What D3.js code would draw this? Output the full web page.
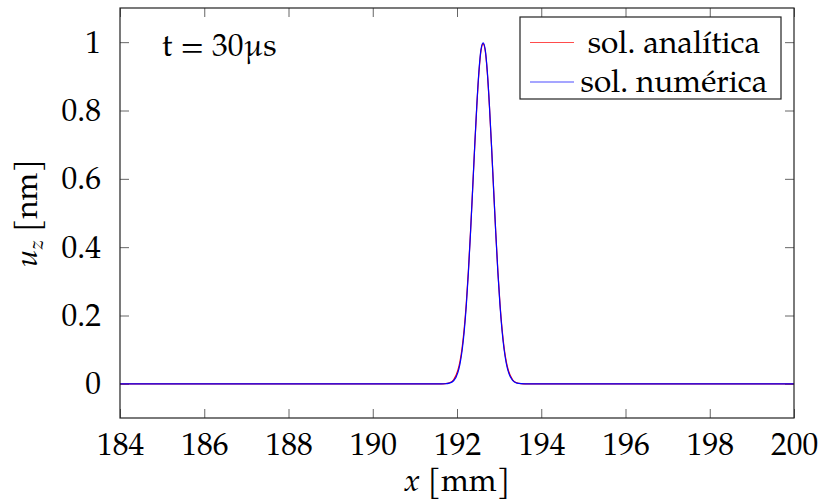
<!DOCTYPE html>
<html>
<head>
<meta charset="utf-8">
<script src="https://cdn.jsdelivr.net/npm/d3@7"></script>
<style>
  body { margin: 0; background: #fff; }
</style>
</head>
<body>
<div id="chart"></div>
<script>
// x positions (mm) of the sampled points
const xValues = [184, 190, 191.42, 191.62, 191.72, 191.82, 191.92, 192.02, 192.07, 192.12, 192.17, 192.22,
    192.27, 192.32, 192.37, 192.42, 192.47, 192.52, 192.57, 192.62, 192.67, 192.72, 192.77,
    192.82, 192.87, 192.92, 192.97, 193.02, 193.07, 193.12, 193.17, 193.22, 193.32, 193.42,
    193.52, 193.62, 195, 200];

// analytical solution u_z (nm)
const analytic = [0, 0, 0, 0.0001, 0.0007, 0.003, 0.012, 0.039, 0.065, 0.104, 0.160, 0.235,
    0.330, 0.443, 0.567, 0.694, 0.812, 0.910, 0.975, 0.995, 0.975, 0.910, 0.812,
    0.694, 0.567, 0.443, 0.330, 0.235, 0.160, 0.104, 0.065, 0.039, 0.012, 0.003,
    0.0007, 0.0001, 0, 0];

// numerical solution u_z (nm)
const numeric = [0, 0, 0, 0, 0.0003, 0.002, 0.009, 0.033, 0.058, 0.096, 0.152, 0.228,
    0.325, 0.440, 0.566, 0.695, 0.815, 0.914, 0.979, 0.998, 0.978, 0.913, 0.814,
    0.695, 0.567, 0.442, 0.327, 0.231, 0.155, 0.099, 0.060, 0.035, 0.010, 0.002,
    0.0004, 0, 0, 0];

const xTicks = [184, 186, 188, 190, 192, 194, 196, 198, 200];
const yTicks = [0, 0.2, 0.4, 0.6, 0.8, 1];

const legendItems = [
    { label: "sol. analítica", color: "#ff0000" },
    { label: "sol. numérica", color: "#0000ff" }
];

const FONT = '"TeX Gyre Pagella", "Liberation Serif", serif';
const FS = "31.5px";
const W = 824, H = 504;
const margin = { left: 120, right: 794, top: 8, bottom: 418 };

const svg = d3.select("#chart").append("svg")
    .attr("width", W)
    .attr("height", H);

const x = d3.scaleLinear().domain([184, 200]).range([margin.left, margin.right]);
const y = d3.scaleLinear().domain([-0.1, 1.1]).range([margin.bottom, margin.top]);

const tickLen = 9;

// axes (ticks inside, on all four sides)
svg.append("g")
    .attr("transform", `translate(0,${margin.bottom})`)
    .call(d3.axisBottom(x).tickValues(xTicks).tickSizeInner(-tickLen).tickSizeOuter(0).tickPadding(15).tickFormat(d3.format("d")))
    .call(g => g.select(".domain").remove())
    .call(g => g.selectAll("line").attr("stroke", "#666"))
    .call(g => g.selectAll("text").style("font-size", FS).style("font-family", FONT).attr("fill", "#000"));

svg.append("g")
    .attr("transform", `translate(0,${margin.top})`)
    .call(d3.axisTop(x).tickValues(xTicks).tickSizeInner(-tickLen).tickSizeOuter(0).tickFormat(""))
    .call(g => g.select(".domain").remove())
    .call(g => g.selectAll("line").attr("stroke", "#666"));

svg.append("g")
    .attr("transform", `translate(${margin.left},0)`)
    .call(d3.axisLeft(y).tickValues(yTicks).tickSizeInner(-tickLen).tickSizeOuter(0).tickPadding(19).tickFormat(d => d === 0 || d === 1 ? d3.format("d")(d) : d3.format(".1f")(d)))
    .call(g => g.select(".domain").remove())
    .call(g => g.selectAll("line").attr("stroke", "#666"))
    .call(g => g.selectAll("text").style("font-size", FS).style("font-family", FONT).attr("fill", "#000"));

svg.append("g")
    .attr("transform", `translate(${margin.right},0)`)
    .call(d3.axisRight(y).tickValues(yTicks).tickSizeInner(-tickLen).tickSizeOuter(0).tickFormat(""))
    .call(g => g.select(".domain").remove())
    .call(g => g.selectAll("line").attr("stroke", "#666"));

// curves
const line = vals => d3.line()
    .x((d, i) => x(xValues[i]))
    .y(d => y(d))
    .curve(d3.curveMonotoneX)(vals);

svg.append("path")
    .attr("d", line(analytic))
    .attr("fill", "none")
    .attr("stroke", "#ff0000")
    .attr("stroke-width", 1.2);

svg.append("path")
    .attr("d", line(numeric))
    .attr("fill", "none")
    .attr("stroke", "#0000ff")
    .attr("stroke-width", 1.2);

// frame
svg.append("rect")
    .attr("x", margin.left).attr("y", margin.top)
    .attr("width", margin.right - margin.left).attr("height", margin.bottom - margin.top)
    .attr("fill", "none")
    .attr("stroke", "#222")
    .attr("stroke-width", 1.2);

// time annotation
svg.append("text")
    .attr("x", 162).attr("y", 56)
    .style("font-family", FONT).style("font-size", FS)
    .text("t = 30μs");

// legend
const legend = svg.append("g").attr("transform", "translate(520,17)");
legend.append("rect")
    .attr("width", 261).attr("height", 82)
    .attr("fill", "#fff")
    .attr("stroke", "#222")
    .attr("stroke-width", 1.2);

legendItems.forEach((item, i) => {
    const ly = 25.5 + i * 39.5;
    legend.append("line")
        .attr("x1", 10).attr("x2", 54)
        .attr("y1", ly).attr("y2", ly)
        .attr("stroke", item.color)
        .attr("stroke-opacity", 0.7)
        .attr("stroke-width", 1.2);
    legend.append("text")
        .attr("x", 154).attr("y", ly + 10)
        .attr("text-anchor", "middle")
        .style("font-family", FONT).style("font-size", FS)
        .text(item.label);
});

// axis labels
const xl = svg.append("text")
    .attr("x", (margin.left + margin.right) / 2).attr("y", 491)
    .attr("text-anchor", "middle")
    .style("font-family", FONT).style("font-size", FS);
xl.append("tspan").style("font-style", "italic").text("x");
xl.append("tspan").text(" [mm]");

const yl = svg.append("text")
    .attr("transform", `translate(37,${(margin.top + margin.bottom) / 2}) rotate(-90)`)
    .attr("text-anchor", "middle")
    .style("font-family", FONT).style("font-size", FS);
yl.append("tspan").style("font-style", "italic").text("u");
yl.append("tspan").style("font-style", "italic").style("font-size", "21px").attr("dy", 6).text("z");
yl.append("tspan").attr("dy", -6).text(" [nm]");
</script>
</body>
</html>
